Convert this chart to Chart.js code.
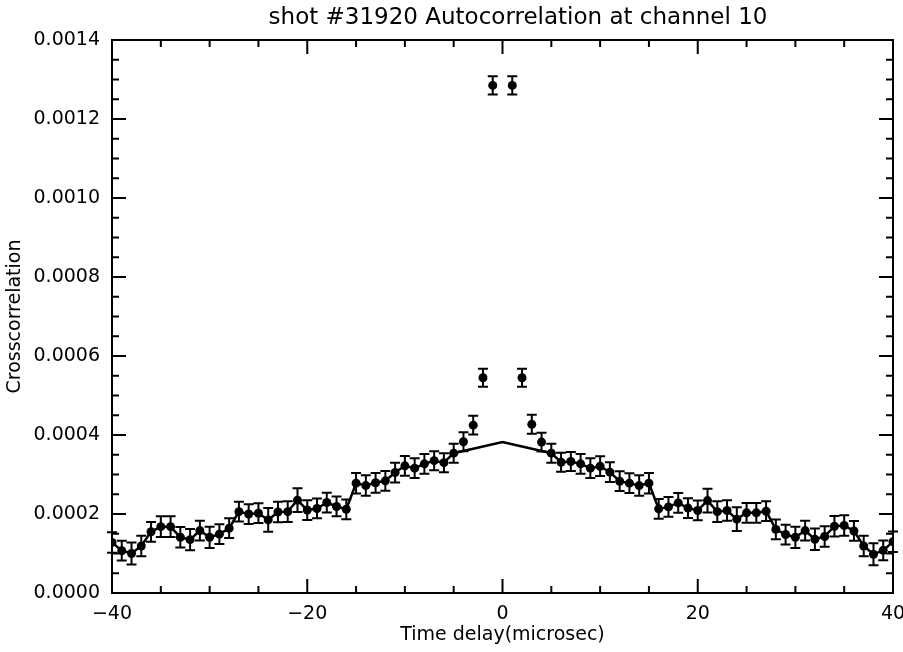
<!DOCTYPE html>
<html>
<head>
<meta charset="utf-8">
<title>shot #31920 Autocorrelation at channel 10</title>
<script src="https://cdn.jsdelivr.net/npm/chart.js@4.4.1/dist/chart.umd.min.js"></script>
<style>
  html, body { margin: 0; padding: 0; background: #fff; }
</style>
</head>
<body>
<canvas id="acf" width="903" height="652"></canvas>
<script>
// time lags in microsec (lag 0 is left out)
var lags = [-40,-39,-38,-37,-36,-35,-34,-33,-32,-31,-30,-29,-28,-27,-26,-25,-24,-23,-22,-21,
            -20,-19,-18,-17,-16,-15,-14,-13,-12,-11,-10,-9,-8,-7,-6,-5,-4,-3,-2,-1,
            1,2,3,4,5,6,7,8,9,10,11,12,13,14,15,16,17,18,19,20,
            21,22,23,24,25,26,27,28,29,30,31,32,33,34,35,36,37,38,39,40];

var values = [0.000128,0.000107,0.000100,0.000119,0.000155,0.000168,0.000168,0.000141,0.000135,0.000158,
              0.000141,0.000149,0.000164,0.000206,0.000200,0.000202,0.000185,0.000205,0.000206,0.000235,
              0.000210,0.000214,0.000229,0.000219,0.000212,0.000278,0.000272,0.000279,0.000284,0.000305,
              0.000322,0.000316,0.000327,0.000335,0.000330,0.000354,0.000383,0.000425,0.000545,0.001285,
              0.001285,0.000545,0.000427,0.000382,0.000354,0.000331,0.000333,0.000327,0.000316,0.000321,
              0.000306,0.000283,0.000278,0.000272,0.000278,0.000213,0.000218,0.000228,0.000215,0.000209,
              0.000234,0.000206,0.000209,0.000187,0.000203,0.000203,0.000207,0.000161,0.000148,0.000141,
              0.000158,0.000136,0.000143,0.000169,0.000171,0.000157,0.000119,0.000098,0.000108,0.000130];

var errors = [0.000026,0.000025,0.000028,0.000026,0.000025,0.000026,0.000026,0.000026,0.000027,0.000025,
              0.000027,0.000025,0.000025,0.000025,0.000025,0.000025,0.000030,0.000026,0.000026,0.000030,
              0.000025,0.000025,0.000025,0.000025,0.000025,0.000026,0.000026,0.000025,0.000025,0.000025,
              0.000025,0.000025,0.000025,0.000024,0.000024,0.000024,0.000024,0.000024,0.000023,0.000023,
              0.000023,0.000023,0.000024,0.000024,0.000024,0.000024,0.000024,0.000025,0.000025,0.000025,
              0.000025,0.000025,0.000025,0.000026,0.000026,0.000025,0.000025,0.000025,0.000025,0.000025,
              0.000030,0.000026,0.000026,0.000030,0.000025,0.000025,0.000025,0.000025,0.000025,0.000027,
              0.000025,0.000027,0.000026,0.000026,0.000026,0.000025,0.000026,0.000028,0.000025,0.000026];

// model line: follows the data for |lag| >= modelCut, straight to modelPeak at lag 0
var modelPeak = 0.000382;
var modelCut = 5;

var titleText = 'shot #31920 Autocorrelation at channel 10';
var xLabel = 'Time delay(microsec)';
var yLabel = 'Crosscorrelation';

var points = lags.map(function(l, i) { return { x: l, y: values[i], err: errors[i] }; });
var model = [];
lags.forEach(function(l, i) {
  if (l === modelCut) model.push({ x: 0, y: modelPeak });
  if (Math.abs(l) >= modelCut) model.push({ x: l, y: values[i] });
});

// error bars, drawn under the points
var errorBars = {
  id: 'errorBars',
  beforeDatasetsDraw: function(chart) {
    var ctx = chart.ctx, xs = chart.scales.x, ys = chart.scales.y;
    ctx.save();
    ctx.strokeStyle = '#000';
    ctx.lineWidth = 2;
    ctx.beginPath();
    points.forEach(function(p) {
      var px = xs.getPixelForValue(p.x);
      var lo = ys.getPixelForValue(p.y - p.err);
      var hi = ys.getPixelForValue(p.y + p.err);
      ctx.moveTo(px, lo); ctx.lineTo(px, hi);
      ctx.moveTo(px - 5, lo); ctx.lineTo(px + 5, lo);
      ctx.moveTo(px - 5, hi); ctx.lineTo(px + 5, hi);
    });
    ctx.stroke();
    ctx.restore();
  }
};

// IDL style box with inward major/minor ticks on all four sides
var frameTicks = {
  id: 'frameTicks',
  afterDraw: function(chart) {
    var ctx = chart.ctx, a = chart.chartArea, xs = chart.scales.x, ys = chart.scales.y;
    ctx.save();
    ctx.strokeStyle = '#000';
    ctx.lineWidth = 2;
    ctx.strokeRect(a.left, a.top, a.right - a.left, a.bottom - a.top);
    ctx.beginPath();
    var i, v, p, len;
    for (i = 0; i <= 16; i++) {
      v = -40 + i * 5;
      len = (i % 4 === 0) ? 14 : 7;
      p = xs.getPixelForValue(v);
      ctx.moveTo(p, a.bottom); ctx.lineTo(p, a.bottom - len);
      ctx.moveTo(p, a.top); ctx.lineTo(p, a.top + len);
    }
    for (i = 0; i <= 28; i++) {
      v = i * 0.00005;
      len = (i % 4 === 0) ? 14 : 7;
      p = ys.getPixelForValue(v);
      ctx.moveTo(a.left, p); ctx.lineTo(a.left + len, p);
      ctx.moveTo(a.right, p); ctx.lineTo(a.right - len, p);
    }
    ctx.stroke();

    // title sits a bit right of the plot centre, like the original
    ctx.fillStyle = '#000';
    ctx.font = '23px "DejaVu Sans", sans-serif';
    ctx.textAlign = 'center';
    ctx.textBaseline = 'middle';
    ctx.fillText(titleText, 518, 18);
    ctx.restore();
  }
};

new Chart(document.getElementById('acf'), {
  type: 'scatter',
  data: {
    datasets: [
      {
        label: 'data',
        data: points,
        showLine: false,
        pointRadius: 4.5,
        pointHoverRadius: 4.5,
        pointBackgroundColor: '#000',
        pointBorderColor: '#000',
        pointBorderWidth: 0
      },
      {
        label: 'model',
        data: model,
        showLine: true,
        borderColor: '#000',
        borderWidth: 2.5,
        pointRadius: 0,
        tension: 0
      }
    ]
  },
  options: {
    responsive: false,
    animation: false,
    layout: { padding: { top: 40, right: 0, bottom: 0, left: 0 } },
    plugins: {
      legend: { display: false },
      tooltip: { enabled: false },
      title: { display: false }
    },
    scales: {
      x: {
        type: 'linear',
        min: -40,
        max: 40,
        afterFit: function(s) { s.height = 59; s.paddingRight = 10; s.paddingLeft = 0; },
        grid: { display: false, drawTicks: false },
        border: { display: false },
        ticks: {
          stepSize: 20,
          padding: 10,
          color: '#000',
          font: { family: 'DejaVu Sans', size: 19 },
          maxRotation: 0,
          callback: function(v) { return String(v).replace('-', '\u2212'); }
        },
        title: {
          display: true,
          text: xLabel,
          color: '#000',
          font: { family: '"DejaVu Sans", sans-serif', size: 19 },
          padding: { top: 0, bottom: 6 }
        }
      },
      y: {
        min: 0,
        max: 0.0014,
        afterFit: function(s) { s.width = 112; },
        grid: { display: false, drawTicks: false },
        border: { display: false },
        ticks: {
          stepSize: 0.0002,
          padding: 12,
          color: '#000',
          font: { family: 'DejaVu Sans', size: 19 },
          callback: function(v) { return v.toFixed(4); }
        },
        title: {
          display: true,
          text: yLabel,
          color: '#000',
          font: { family: 'DejaVu Sans', size: 19 },
          padding: { top: 4, bottom: 0 }
        }
      }
    }
  },
  plugins: [errorBars, frameTicks]
});
</script>
</body>
</html>
